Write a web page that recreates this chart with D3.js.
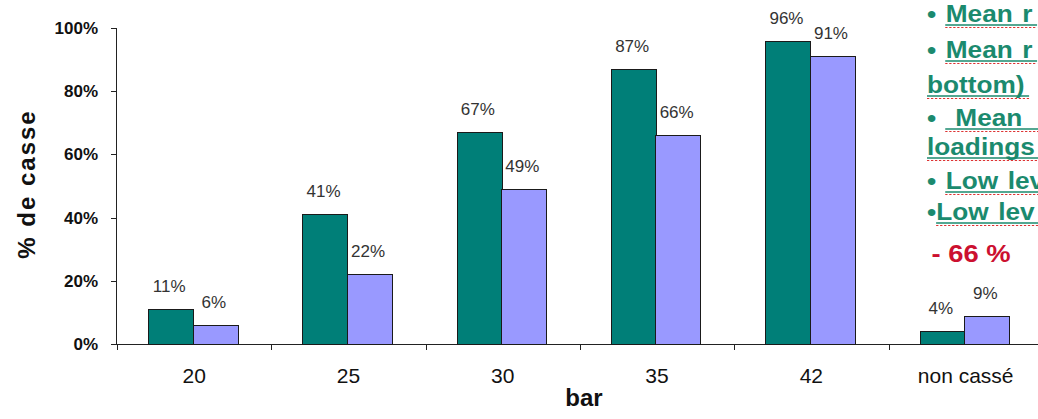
<!DOCTYPE html>
<html>
<head>
<meta charset="utf-8">
<script src="https://cdn.jsdelivr.net/npm/d3@7"></script>
<style>
body { margin: 0; background: #fff; }
svg { display: block; font-family: Arial, "Liberation Sans", sans-serif; }
.val { font-size: 17px; fill: #333; }
.ytick { font-size: 17px; font-weight: bold; fill: #111; }
.xtick { font-size: 21px; fill: #111; }
.note { font-size: 23px; font-weight: bold; fill: #1b8a6e; word-spacing: 2px; }
</style>
</head>
<body>
<div id="chart"></div>
<script>
var categories = ["20", "25", "30", "35", "42", "non cassé"]
var seriesA = [11, 41, 67, 87, 96, 4]
var seriesB = [6, 22, 49, 66, 91, 9]
var yTicks = [0, 20, 40, 60, 80, 100]
var notes = ["• Mean r", "• Mean r", "bottom)", "•  Mean  r", "loadings", "• Low lev", "•Low lev"]
var noteRed = "- 66 %"

var W = 1038, H = 419

var svg = d3.select("#chart").append("svg")
  .attr("width", W)
  .attr("height", H)

/* scales */
var x = d3.scaleBand()
  .domain(categories)
  .range([117, 117 + 6 * 154.3])
var inner = d3.scaleBand()
  .domain(["a", "b"])
  .range([31, 31 + 89])
var y = d3.scaleLinear()
  .domain([0, 100])
  .range([344, 28])

var data = categories.map(function(c, i) {
  return { cat: c, a: seriesA[i], b: seriesB[i] }
})

/* axes */
svg.append("line")
  .attr("x1", 116.5).attr("x2", 116.5)
  .attr("y1", y(100)).attr("y2", y(0))
  .style("stroke", "#222")
svg.append("line")
  .attr("x1", 116).attr("x2", W)
  .attr("y1", y(0) + 0.5).attr("y2", y(0) + 0.5)
  .style("stroke", "#222")

yTicks.forEach(function(t) {
  svg.append("line")
    .attr("x1", 111).attr("x2", 116)
    .attr("y1", Math.round(y(t)) + 0.5).attr("y2", Math.round(y(t)) + 0.5)
    .style("stroke", "#222")
  svg.append("text")
    .attr("class", "ytick")
    .attr("x", 98)
    .attr("y", y(t) + 6)
    .attr("text-anchor", "end")
    .text(t + "%")
})

categories.forEach(function(c) {
  var xb = Math.round(x(c)) + 0.5
  svg.append("line")
    .attr("x1", xb).attr("x2", xb)
    .attr("y1", y(0)).attr("y2", y(0) + 6)
    .style("stroke", "#222")
  svg.append("text")
    .attr("class", "xtick")
    .attr("x", x(c) + x.bandwidth() / 2)
    .attr("y", 383)
    .attr("text-anchor", "middle")
    .text(c)
})

/* bars */
function drawSeries(key, color) {
  svg.selectAll(".bar-" + key)
    .data(data)
    .enter().append("rect")
    .attr("class", "bar-" + key)
    .attr("x", function(d) { return Math.round(x(d.cat) + inner(key)) + 0.5 })
    .attr("y", function(d) { return Math.round(y(d[key])) + 0.5 })
    .attr("width", Math.round(inner.bandwidth()))
    .attr("height", function(d) { return Math.round(y(0)) - Math.round(y(d[key])) })
    .style("fill", color)
    .style("stroke", "#1a1a1a")
    .style("stroke-width", 1)
  svg.selectAll(".val-" + key)
    .data(data)
    .enter().append("text")
    .attr("class", "val")
    .attr("x", function(d) { return x(d.cat) + inner(key) + inner.bandwidth() / 2 - 1 })
    .attr("y", function(d) { return y(d[key]) - 17 })
    .attr("text-anchor", "middle")
    .text(function(d) { return d[key] + "%" })
}
drawSeries("a", "#007f78")
drawSeries("b", "#9999ff")

/* axis titles */
svg.append("text")
  .attr("transform", "translate(35,184) rotate(-90)")
  .attr("text-anchor", "middle")
  .style("font-size", "24px")
  .style("font-weight", "bold")
  .style("letter-spacing", "2px")
  .style("fill", "#111")
  .text("% de casse")
svg.append("text")
  .attr("x", 584)
  .attr("y", 406)
  .attr("text-anchor", "middle")
  .style("font-size", "24px")
  .style("font-weight", "bold")
  .style("fill", "#111")
  .text("bar")

/* side notes (text box is stretched wider than it is tall) */
var noteBox = svg.append("g")
  .attr("transform", "translate(927,0) scale(1.14,1)")
var noteY = [22, 58, 93, 126, 155, 189, 220]
notes.forEach(function(n, i) {
  var t = noteBox.append("text")
    .attr("class", "note")
    .attr("x", 0)
    .attr("y", noteY[i])
    .attr("xml:space", "preserve")
    .style("white-space", "pre")
    .text(n)
  var len = t.node().getComputedTextLength()
  var start = n.charAt(0) === "•" ? (n.charAt(1) === " " ? 16 : 8) : 0
  noteBox.append("line")
    .attr("x1", start).attr("x2", len + 4)
    .attr("y1", noteY[i] + 3).attr("y2", noteY[i] + 3)
    .style("stroke", "#1b8a6e")
    .style("stroke-width", 1.5)
  noteBox.append("line")
    .attr("x1", start).attr("x2", len + 4)
    .attr("y1", noteY[i] + 5.5).attr("y2", noteY[i] + 5.5)
    .style("stroke", "#d33")
    .style("stroke-width", 1)
    .style("stroke-dasharray", "2,1.5")
})
noteBox.append("text")
  .attr("x", 4)
  .attr("y", 262)
  .style("font-size", "24px")
  .style("font-weight", "bold")
  .style("fill", "#cc1030")
  .text(noteRed)
</script>
</body>
</html>
